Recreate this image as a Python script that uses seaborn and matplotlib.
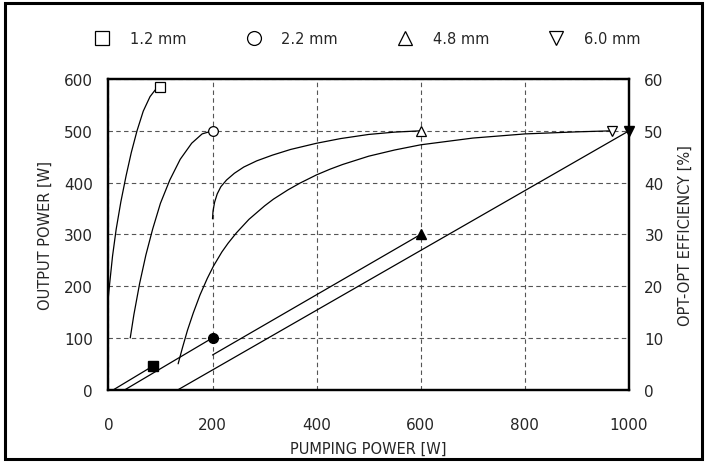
import matplotlib
matplotlib.use("Agg")
import matplotlib.pyplot as plt
from matplotlib.lines import Line2D
from matplotlib.patches import Rectangle
import seaborn as sns
import pandas as pd

sns.set_style("white")
plt.rcParams['font.family'] = ['DejaVu Sans']

# rod diameters
labels = ["1.2 mm", "2.2 mm", "4.8 mm", "6.0 mm"]
open_markers = ["s", "o", "^", "v"]

# opt-opt efficiency curves [%] vs pumping power [W]
eff12_x = [0, 3, 8, 15, 24, 34, 44, 55, 67, 80, 90, 99]
eff12_y = [18, 21, 25.8, 31, 36.3, 41.3, 45.8, 50, 53.8, 56.6, 57.9, 58.5]

eff22_x = [42, 49, 60, 72, 85, 100, 118, 138, 160, 180, 200]
eff22_y = [10, 14.5, 20.5, 26, 31, 36, 40.5, 44.5, 47.6, 49.4, 50]

eff48_x = [200, 201, 204, 209, 216, 227, 242, 260, 285, 315, 350, 400, 446, 500, 550, 600]
eff48_y = [33, 34.5, 36.2, 37.8, 39.2, 40.5, 41.8, 43, 44.2, 45.3, 46.4, 47.6, 48.5, 49.3, 49.75, 50]

eff60_x = [134, 142, 152, 163, 176, 190, 202, 218, 230, 246, 270, 300, 317, 345, 368,
           400, 426, 450, 500, 550, 600, 700, 800, 900, 967]
eff60_y = [5, 8, 11.5, 14.8, 18.3, 21.5, 23.9, 26.6, 28.3, 30.3, 32.9, 35.5, 36.8, 38.6, 39.9,
           41.5, 42.6, 43.5, 45.1, 46.3, 47.3, 48.6, 49.4, 49.8, 50]

# output power lines [W] vs pumping power [W]
out12_x = [10, 86]
out12_y = [0, 46]
out22_x = [32, 200]
out22_y = [0, 100]
out48_x = [200, 600]
out48_y = [67, 300]
out60_x = [134, 1000]
out60_y = [0, 500]

eff_curves = [(eff12_x, eff12_y), (eff22_x, eff22_y), (eff48_x, eff48_y), (eff60_x, eff60_y)]
out_lines = [(out12_x, out12_y), (out22_x, out22_y), (out48_x, out48_y), (out60_x, out60_y)]

fig = plt.figure(figsize=(7.06, 4.64), dpi=100)
ax = fig.add_axes([0.1535, 0.158, 0.7375, 0.6695])
ax2 = ax.twinx()

lw = 0.9
for (xs, ys), m in zip(out_lines, open_markers):
    d = pd.DataFrame({"pump": xs, "out": ys})
    sns.lineplot(data=d, x="pump", y="out", ax=ax, color="black", lw=lw,
                 sort=False, estimator=None)
    ax.plot(xs[-1], ys[-1], marker=m, color="black", ms=7, ls="none", zorder=5,
            clip_on=False)

for (xs, ys), m in zip(eff_curves, open_markers):
    d = pd.DataFrame({"pump": xs, "eff": ys})
    sns.lineplot(data=d, x="pump", y="eff", ax=ax2, color="black", lw=lw,
                 sort=False, estimator=None)
    ax2.plot(xs[-1], ys[-1], marker=m, mfc="white", mec="black", mew=0.9,
             ms=7, ls="none", zorder=5, clip_on=False)

ax.set_xlim(0, 1000)
ax.set_ylim(0, 600)
ax2.set_ylim(0, 60)
ax.set_xticks([0, 200, 400, 600, 800, 1000])
ax.set_yticks([0, 100, 200, 300, 400, 500, 600])
ax2.set_yticks([0, 10, 20, 30, 40, 50, 60])

ax.grid(True, ls=(0, (4, 3)), color="#555555", lw=0.8)
ax.set_axisbelow(True)
ax2.grid(False)

ax.tick_params(axis="both", length=0, labelsize=11)
ax.tick_params(axis="x", pad=20)
ax.tick_params(axis="y", pad=11)
ax2.tick_params(axis="y", length=0, labelsize=11, pad=11)

ax.set_xlabel("PUMPING POWER [W]", fontsize=10.5, labelpad=6)
ax.set_ylabel("OUTPUT POWER [W]", fontsize=10.5, labelpad=8)
ax2.set_ylabel("OPT-OPT EFFICIENCY [%]", fontsize=10.5, labelpad=10)

for a in (ax, ax2):
    for s in a.spines.values():
        s.set_color("black")
        s.set_linewidth(1.6)

handles = [Line2D([], [], marker=m, mfc="white", mec="black", mew=0.9, ms=10, ls="none")
           for m in open_markers]
fig.legend(handles, labels, loc="center", bbox_to_anchor=(0.52, 0.914), ncol=4,
           frameon=False, fontsize=10.5, handletextpad=1.3, columnspacing=4.0,
           handlelength=1.2)

fig.patches.append(Rectangle((0.007, 0.008), 0.988, 0.984, transform=fig.transFigure,
                             fill=False, ec="black", lw=2.2))

fig.savefig("out.png", dpi=100)
